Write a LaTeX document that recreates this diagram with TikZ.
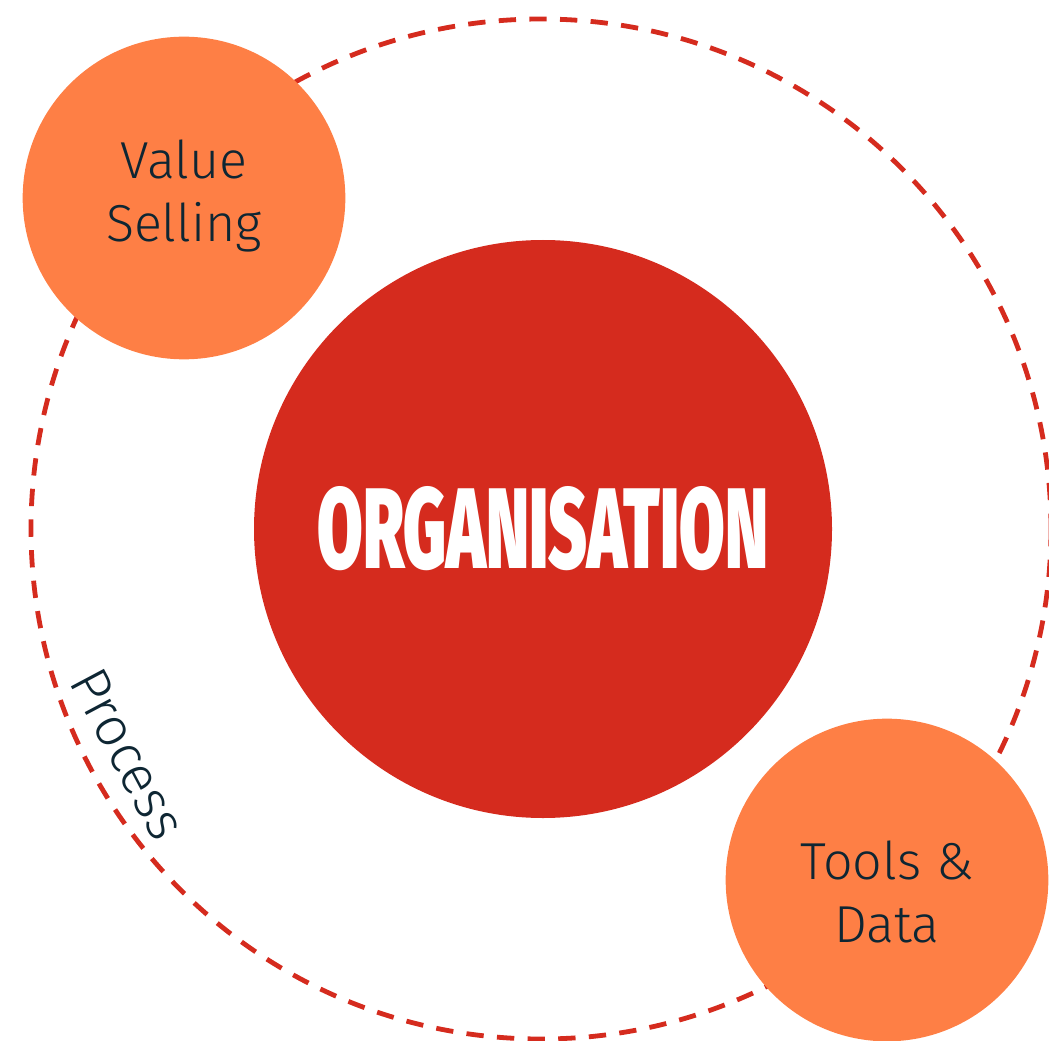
\documentclass[tikz,border=0pt]{standalone}
\usepackage{fontspec}
\newfontfamily\lightfont{Fira Sans Light}
\newfontfamily\heavyfont{Fira Sans Black}

\definecolor{corered}{RGB}{213,43,30}
\definecolor{bubbleorange}{RGB}{254,127,69}
\definecolor{inkblue}{RGB}{14,38,51}

\tikzset{every picture/.style={line width=0.75pt}}
\tikzset{
  orbit/.style={draw=corered, line width=3.6pt, dash pattern=on 13pt off 10pt},
  core/.style={circle, fill=corered, minimum size=433.5pt, inner sep=0pt, text=white},
  bubble/.style={circle, fill=bubbleorange, minimum size=242pt, inner sep=0pt},
  caption/.style={inner sep=0pt, align=center, text=inkblue, font=\lightfont\fontsize{39}{47}\selectfont},
}

\begin{document}
\begin{tikzpicture}[x=0.75pt,y=0.75pt,yscale=-1,xscale=1]
\useasboundingbox (0,0) rectangle (1049,1041);

%Dashed ring
\draw [orbit] (541,529) circle (510);

%Centre circle
\node [core] (org) at (543,529) {\resizebox{338pt}{61.5pt}{\heavyfont ORGANISATION}};

%Small circles
\node [bubble] (value) at (184,198) {};
\node [bubble] (tools) at (887,880) {};

% Text Node
\node [caption] (valuetext) at (184,196) {Value\\Selling};
% Text Node
\node [caption] (toolstext) at (887,892) {Tools \&\\Data};
% Text Node
\node [caption, font=\lightfont\fontsize{41}{49}\selectfont, rotate=-62] (processtext) at (128,754) {Process};

\end{tikzpicture}
\end{document}
